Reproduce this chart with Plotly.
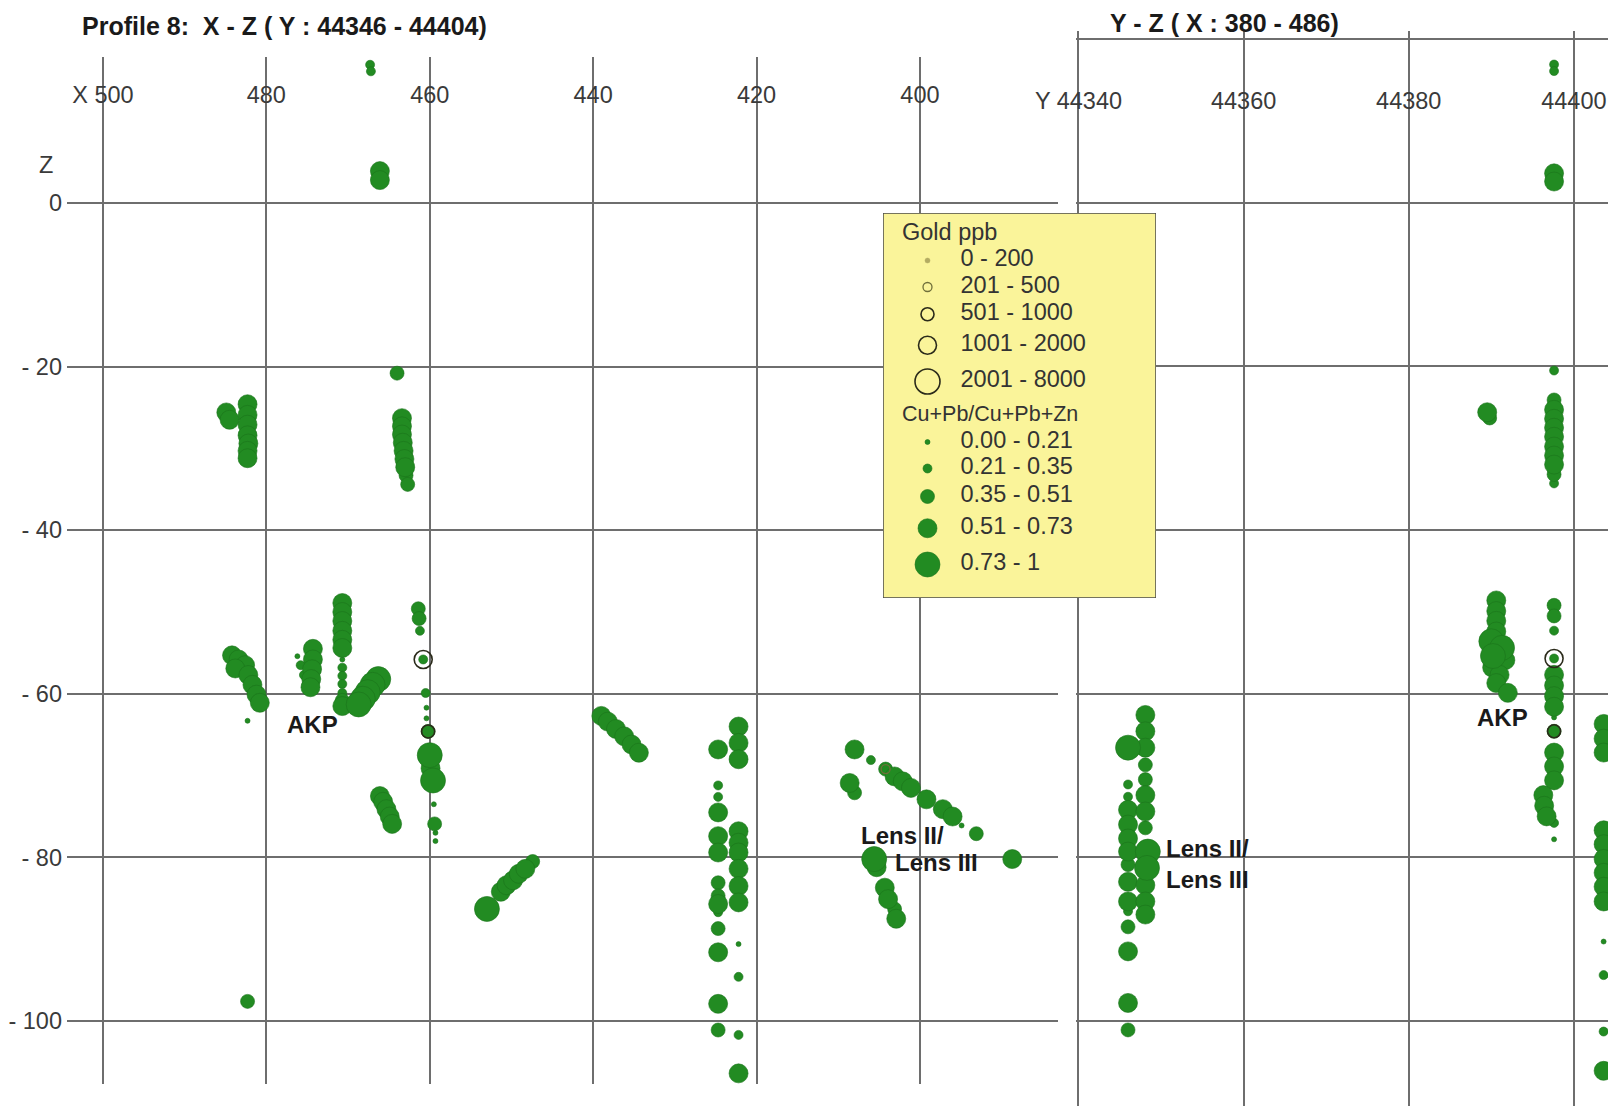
import numpy as np
import plotly.graph_objects as go

# ---------------------------------------------------------------- data
# Profile 8, X-Z section (left panel): X, Z, ratio (Cu+Pb)/(Cu+Pb+Zn)
xz_x = [467.3, 467.2, 466.1, 466.1,
        484.9, 484.5, 482.3, 482.3, 482.3, 482.3, 482.2, 482.3, 482.3,
        464.0, 463.4, 463.4, 463.4, 463.3, 463.2, 463.1, 463.0, 462.9, 462.7,
        484.2, 483.4, 482.6, 483.8, 482.2, 481.7, 481.2, 480.8, 482.3,
        474.3, 474.3, 474.4, 474.5, 474.6, 476.2, 475.8, 475.4, 475.0,
        470.7, 470.7, 470.7, 470.7, 470.7, 470.7, 470.7, 470.7, 470.7, 470.7, 470.7, 470.7, 470.7,
        466.3, 467.0, 467.6, 468.2, 468.7,
        461.4, 461.3, 461.2, 460.8, 460.5, 460.4, 460.4, 460.2, 460.0, 459.9, 459.6, 459.5, 459.4, 459.3, 459.3,
        466.1, 465.7, 465.3, 464.9, 464.6,
        482.3,
        439.0, 438.2, 437.2, 436.2, 435.3, 434.4,
        453.0, 451.3, 450.6, 449.8, 449.1, 448.3, 447.4,
        422.2, 422.2, 422.2, 422.2, 422.2, 422.2, 422.2, 422.2, 422.2, 422.2, 422.2, 422.2, 422.2,
        424.7, 424.7, 424.7, 424.7, 424.7, 424.7, 424.7, 424.7, 424.7, 424.7, 424.7, 424.7, 424.7, 424.7,
        408.0, 406.0, 404.2, 403.1, 402.1, 401.1, 399.2, 397.2, 396.0, 394.9, 393.1, 388.7,
        408.6, 408.0, 405.6, 405.3, 404.3, 403.9, 403.1, 402.9]
xz_z = [16.9, 16.1, 3.9, 2.8,
        -25.6, -26.5, -24.6, -25.9, -27.1, -28.4, -29.4, -30.3, -31.2,
        -20.8, -26.3, -27.3, -28.3, -29.3, -30.3, -31.3, -32.3, -33.3, -34.4,
        -55.3, -55.8, -56.5, -56.9, -57.7, -58.9, -60.1, -61.1, -63.3,
        -54.5, -55.8, -57.0, -58.2, -59.2, -55.4, -56.5, -57.7, -58.8,
        -48.9, -50.0, -51.1, -52.3, -53.4, -54.4, -55.8, -56.8, -57.8, -58.8, -59.9, -60.8, -61.5,
        -58.2, -58.9, -59.8, -60.6, -61.3,
        -49.6, -50.8, -52.3, -55.8, -59.9, -61.7, -63.0, -64.6, -67.5, -69.1, -70.6, -73.5, -75.9, -77.0, -78.0,
        -72.5, -73.2, -74.1, -75.0, -75.9,
        -97.6,
        -62.7, -63.4, -64.3, -65.2, -66.2, -67.2,
        -86.3, -84.2, -83.4, -82.8, -82.0, -81.4, -80.5,
        -64.0, -66.0, -68.0, -76.8, -78.2, -79.4, -81.4, -83.5, -85.5, -90.6, -94.6, -101.7, -106.4,
        -66.8, -71.2, -72.6, -74.5, -77.4, -79.4, -83.1, -84.7, -85.7, -86.7, -88.7, -91.6, -97.9, -101.1,
        -66.8, -68.1, -69.2, -70.1, -70.7, -71.5, -72.9, -74.1, -75.0, -76.1, -77.1, -80.2,
        -70.9, -72.1, -80.2, -81.2, -83.7, -85.1, -86.3, -87.5]
xz_ratio = [0.28, 0.28, 0.62, 0.62,
            0.62, 0.62, 0.62, 0.62, 0.62, 0.62, 0.62, 0.62, 0.62,
            0.44, 0.62, 0.62, 0.62, 0.62, 0.62, 0.62, 0.62, 0.44, 0.44,
            0.62, 0.62, 0.62, 0.62, 0.62, 0.62, 0.62, 0.62, 0.12,
            0.62, 0.62, 0.62, 0.62, 0.62, 0.12, 0.28, 0.28, 0.28,
            0.62, 0.62, 0.62, 0.62, 0.62, 0.62, 0.12, 0.28, 0.28, 0.28, 0.28, 0.44, 0.62,
            0.82, 0.82, 0.82, 0.82, 0.82,
            0.44, 0.44, 0.28, 0.28, 0.28, 0.12, 0.12, 0.44, 0.82, 0.62, 0.82, 0.12, 0.44, 0.12, 0.12,
            0.62, 0.62, 0.62, 0.62, 0.62,
            0.44,
            0.62, 0.62, 0.62, 0.62, 0.62, 0.62,
            0.82, 0.62, 0.62, 0.62, 0.62, 0.62, 0.44,
            0.62, 0.62, 0.62, 0.62, 0.62, 0.62, 0.62, 0.62, 0.62, 0.12, 0.28, 0.28, 0.62,
            0.62, 0.28, 0.28, 0.62, 0.62, 0.62, 0.44, 0.44, 0.62, 0.28, 0.44, 0.62, 0.62, 0.44,
            0.62, 0.28, 0.44, 0.62, 0.62, 0.62, 0.62, 0.62, 0.62, 0.12, 0.44, 0.62,
            0.62, 0.44, 0.82, 0.62, 0.62, 0.62, 0.44, 0.62]

# Y-Z section (right panel): Y, Z, ratio
yz_y = [44397.6, 44397.6, 44397.6, 44397.6,
        44397.6, 44397.6, 44397.6, 44397.6, 44397.6, 44397.6, 44397.6, 44397.6, 44397.6, 44397.6, 44397.6,
        44389.5, 44389.8,
        44390.6, 44390.6, 44390.6, 44390.6, 44390.0, 44391.3, 44390.2, 44391.7, 44390.1, 44391.0, 44390.6, 44392.0,
        44397.6, 44397.6, 44397.6, 44397.6, 44397.6, 44397.6, 44397.6, 44397.6, 44397.6, 44397.6,
        44397.6, 44397.6, 44397.6, 44397.6, 44397.6, 44396.3, 44396.4, 44396.7,
        44403.6, 44403.6, 44403.6, 44403.6, 44403.6, 44403.6, 44403.6, 44403.6, 44403.6, 44403.6, 44403.6, 44403.6, 44403.6,
        44346.0, 44346.0, 44346.0, 44346.0, 44346.0, 44346.0, 44346.0, 44346.0, 44346.0, 44346.0, 44346.0, 44346.0, 44346.0, 44346.0, 44346.0,
        44348.1, 44348.1, 44348.1, 44348.1, 44348.1, 44348.1, 44348.1, 44348.1, 44348.4, 44348.3, 44348.1, 44348.1, 44348.1]
yz_z = [16.9, 16.1, 3.6, 2.6,
        -20.5, -24.1, -25.3, -26.4, -27.5, -28.6, -29.8, -30.9, -32.0, -33.2, -34.3,
        -25.6, -26.3,
        -48.6, -49.9, -51.1, -52.4, -53.6, -54.4, -55.4, -55.9, -56.8, -57.7, -58.7, -59.9,
        -49.2, -50.5, -52.3, -55.7, -57.7, -59.0, -60.3, -61.6, -62.9, -64.6,
        -67.2, -68.9, -70.6, -75.8, -77.8, -72.4, -73.7, -75.0,
        -63.7, -65.5, -67.2, -76.7, -78.4, -80.2, -81.9, -83.6, -85.4, -90.3, -94.4, -101.3, -106.1,
        -66.6, -71.1, -72.6, -74.2, -76.0, -77.7, -79.3, -80.9, -83.0, -85.4, -86.6, -88.5, -91.5, -97.8, -101.1,
        -62.6, -64.6, -66.6, -68.7, -70.5, -72.4, -74.4, -76.4, -79.3, -81.3, -83.4, -85.4, -87.0]
yz_ratio = [0.28, 0.28, 0.62, 0.62,
            0.28, 0.44, 0.62, 0.62, 0.62, 0.62, 0.62, 0.62, 0.62, 0.44, 0.28,
            0.62, 0.44,
            0.62, 0.62, 0.62, 0.62, 0.82, 0.82, 0.82, 0.62, 0.62, 0.62, 0.62, 0.62,
            0.44, 0.44, 0.28, 0.28, 0.62, 0.62, 0.62, 0.62, 0.12, 0.44,
            0.62, 0.62, 0.62, 0.28, 0.12, 0.62, 0.62, 0.62,
            0.62, 0.62, 0.62, 0.62, 0.62, 0.62, 0.62, 0.62, 0.62, 0.12, 0.28, 0.28, 0.62,
            0.82, 0.28, 0.28, 0.62, 0.62, 0.62, 0.62, 0.44, 0.62, 0.62, 0.28, 0.44, 0.62, 0.62, 0.44,
            0.62, 0.62, 0.62, 0.44, 0.44, 0.62, 0.62, 0.44, 0.82, 0.82, 0.62, 0.62, 0.62]

# gold anomalies (ppb) above background
gold_xz_x = [460.8, 460.2, 404.2]
gold_xz_z = [-55.8, -64.6, -69.2]
gold_xz_ppb = [1500, 800, 350]
gold_yz_y = [44397.6, 44397.6]
gold_yz_z = [-55.7, -64.6]
gold_yz_ppb = [1500, 800]

gold_bins = [0, 200, 500, 1000, 2000, 8000]
gold_labels = ["0 - 200", "201 - 500", "501 - 1000", "1001 - 2000", "2001 - 8000"]
ratio_bins = [0, 0.21, 0.35, 0.51, 0.73, 1.0]
ratio_labels = ["0.00 - 0.21", "0.21 - 0.35", "0.35 - 0.51", "0.51 - 0.73", "0.73 - 1"]

x_tickvals = [500, 480, 460, 440, 420, 400]
x_ticktext = ["X 500", "480", "460", "440", "420", "400"]
y_tickvals = [44340, 44360, 44380, 44400]
y_ticktext = ["Y 44340", "44360", "44380", "44400"]
z_tickvals = [0, -20, -40, -60, -80, -100]
z_ticktext = ["0", "- 20", "- 40", "- 60", "- 80", "- 100"]
z_tickvals_right = [20, 0, -20, -40, -60, -80, -100]

# ---------------------------------------------------------------- style / geometry
# The page body adds an 8 px margin, so the figure is drawn 8 px smaller and
# every screen position below is given in screen pixels, then shifted by OFF.
SCREEN_W, SCREEN_H, OFF = 1616, 1106, 8
W, H = SCREEN_W - OFF, SCREEN_H - OFF

GREEN = "#228B22"
GREEN_EDGE = "#1b741b"
GRID = "#6e6e6e"
FONT = "Liberation Sans, Arial, sans-serif"
ratio_sizes = [5, 9, 14, 19, 25]
gold_sizes = [5, 9, 13, 18, 25]
gold_colors = ["#b3ab62", "#6f6f3a", "#2a2a1a", "#2a2a1a", "#2a2a1a"]
gold_symbols = ["circle", "circle-open", "circle-open", "circle-open", "circle-open"]
gold_line_w = [0.5, 1.3, 1.6, 1.6, 1.6]


def px(x):
    return (x - OFF) / W


def py(y):
    return 1 - (y - OFF) / H


# panel frames in screen pixels
LP = dict(l=67, r=1058, t=57, b=1084)
RP = dict(l=1076, r=SCREEN_W, t=31, b=SCREEN_H)
LEG = dict(l=883, r=1156, t=213, b=598)

fig = go.Figure()


def add_ratio_traces(xs, zs, rs, xa, ya):
    xs, zs, rs = np.array(xs), np.array(zs), np.array(rs)
    cls = np.clip(np.digitize(rs, ratio_bins[1:-1], right=True), 0, 4)
    for i in range(5):
        m = cls == i
        if not m.any():
            continue
        fig.add_trace(go.Scatter(
            x=xs[m], y=zs[m], mode="markers", xaxis=xa, yaxis=ya,
            name=ratio_labels[i], showlegend=False, hoverinfo="skip",
            marker=dict(size=ratio_sizes[i], color=GREEN, opacity=1,
                        line=dict(color=GREEN_EDGE, width=0.6))))


def gold_marker(cls):
    return dict(size=[gold_sizes[c] for c in cls],
                symbol=[gold_symbols[c] for c in cls],
                color=[gold_colors[c] for c in cls], opacity=1,
                line=dict(width=[gold_line_w[c] for c in cls],
                          color=[gold_colors[c] for c in cls]))


def add_gold_trace(xs, zs, ppb, xa, ya):
    cls = np.clip(np.digitize(ppb, gold_bins[1:-1], right=True), 0, 4)
    fig.add_trace(go.Scatter(
        x=xs, y=zs, mode="markers", xaxis=xa, yaxis=ya, showlegend=False,
        hoverinfo="skip", marker=gold_marker(cls)))


add_ratio_traces(xz_x, xz_z, xz_ratio, "x", "y")
add_gold_trace(gold_xz_x, gold_xz_z, gold_xz_ppb, "x", "y")
add_ratio_traces(yz_y, yz_z, yz_ratio, "x2", "y2")
add_gold_trace(gold_yz_y, gold_yz_z, gold_yz_ppb, "x2", "y2")

# ---------------------------------------------------------------- legend box (inset axes, 1 unit = 1 px)
leg_w = LEG["r"] - LEG["l"]
leg_h = LEG["b"] - LEG["t"]
sym_x, txt_x, hdr_x = 44.5, 77.5, 19


def stack(sizes, start):
    out, y = [], start
    for s in sizes:
        y += 26.5 + 0.75 * max(0, s - 12)
        out.append(y)
    return out


hdr1 = 21
gold_rows = stack(gold_sizes, hdr1)
hdr2 = gold_rows[-1] + 34
ratio_rows = stack(ratio_sizes, hdr2)

fig.add_trace(go.Scatter(
    x=[sym_x] * 5, y=gold_rows, mode="markers", xaxis="x3", yaxis="y3",
    showlegend=False, hoverinfo="skip", marker=gold_marker(list(range(5)))))
fig.add_trace(go.Scatter(
    x=[sym_x] * 5, y=ratio_rows, mode="markers", xaxis="x3", yaxis="y3",
    showlegend=False, hoverinfo="skip",
    marker=dict(size=ratio_sizes, color=GREEN, opacity=1,
                line=dict(color=GREEN_EDGE, width=0.6))))
fig.add_trace(go.Scatter(
    x=[txt_x] * 10, y=gold_rows + ratio_rows, text=gold_labels + ratio_labels,
    mode="text", textposition="middle right", xaxis="x3", yaxis="y3",
    showlegend=False, hoverinfo="skip",
    textfont=dict(family=FONT, size=23.5, color="#333333")))
fig.add_trace(go.Scatter(
    x=[hdr_x] * 2, y=[hdr1, hdr2], text=["Gold ppb", "Cu+Pb/Cu+Pb+Zn"],
    mode="text", textposition="middle right", xaxis="x3", yaxis="y3",
    showlegend=False, hoverinfo="skip",
    textfont=dict(family=FONT, size=[23.5, 21.5], color="#333333")))

fig.add_shape(type="rect", xref="x3", yref="y3", x0=0, x1=leg_w, y0=0, y1=leg_h,
              fillcolor="#FAF49A", line=dict(color="#4a4a4a", width=1.5), layer="below")

# ---------------------------------------------------------------- axes
tickfont = dict(family=FONT, size=23.5, color="#3a3a3a")
common = dict(showgrid=True, gridcolor=GRID, gridwidth=1.5, zeroline=False,
              showline=False, ticks="", fixedrange=True, automargin=False)

fig.update_layout(
    width=W, height=H, margin=dict(l=0, r=0, t=0, b=0, autoexpand=False),
    paper_bgcolor="white", plot_bgcolor="white", showlegend=False,
    xaxis=dict(domain=[px(LP["l"]), px(LP["r"])], range=[504.4, 383.1],
               anchor="free", position=py(108), side="top",
               tickvals=x_tickvals, ticktext=x_ticktext, tickfont=tickfont, **common),
    yaxis=dict(domain=[py(LP["b"]), py(LP["t"])], range=[-107.7, 17.85], anchor="x",
               side="left", tickvals=z_tickvals, ticktext=z_ticktext, tickfont=tickfont,
               ticklabelstandoff=4, **common),
    xaxis2=dict(domain=[px(RP["l"]), px(RP["r"])], range=[44339.7, 44405.1],
                anchor="free", position=py(114), side="top",
                tickvals=y_tickvals, ticktext=y_ticktext, tickfont=tickfont, **common),
    yaxis2=dict(domain=[py(RP["b"]), py(RP["t"])], range=[-110.4, 21.0], anchor="x2",
                tickvals=z_tickvals_right, showticklabels=False, **common),
    xaxis3=dict(domain=[px(LEG["l"]), px(LEG["r"])], range=[0, leg_w], anchor="y3",
                visible=False, fixedrange=True),
    yaxis3=dict(domain=[py(LEG["b"]), py(LEG["t"])], range=[leg_h, 0], anchor="x3",
                visible=False, fixedrange=True),
)

# ---------------------------------------------------------------- text
ann = []
ann.append(dict(text="<b>Profile 8:  X - Z ( Y : 44346 - 44404)</b>", xref="paper", yref="paper",
                x=px(80), y=py(26), xanchor="left", yanchor="middle", showarrow=False,
                font=dict(family=FONT, size=25, color="#1a1a1a")))
ann.append(dict(text="<b>Y - Z ( X : 380 - 486)</b>", xref="paper", yref="paper",
                x=px(1108), y=py(23), xanchor="left", yanchor="middle", showarrow=False,
                font=dict(family=FONT, size=25, color="#1a1a1a")))
ann.append(dict(text="Z", xref="paper", yref="paper", x=px(46), y=py(165),
                xanchor="center", yanchor="middle", showarrow=False,
                font=dict(family=FONT, size=23.5, color="#3a3a3a")))
lab_font = dict(family=FONT, size=24, color="#1a1a1a")
ann.append(dict(text="<b>AKP</b>", xref="x", yref="y", x=474.4, y=-63.8,
                showarrow=False, font=lab_font))
ann.append(dict(text="<b>Lens II/</b>", xref="x", yref="y", x=402.1, y=-77.3,
                showarrow=False, font=lab_font))
ann.append(dict(text="<b>Lens III</b>", xref="x", yref="y", x=398.0, y=-80.6,
                showarrow=False, font=lab_font))
ann.append(dict(text="<b>AKP</b>", xref="x2", yref="y2", x=44391.3, y=-62.9,
                showarrow=False, font=lab_font))
ann.append(dict(text="<b>Lens II/<br>Lens III</b>", xref="x2", yref="y2", x=44350.3, y=-80.8,
                xanchor="left", align="left", showarrow=False, font=lab_font))
fig.update_layout(annotations=ann)

fig.write_html("out.html")
